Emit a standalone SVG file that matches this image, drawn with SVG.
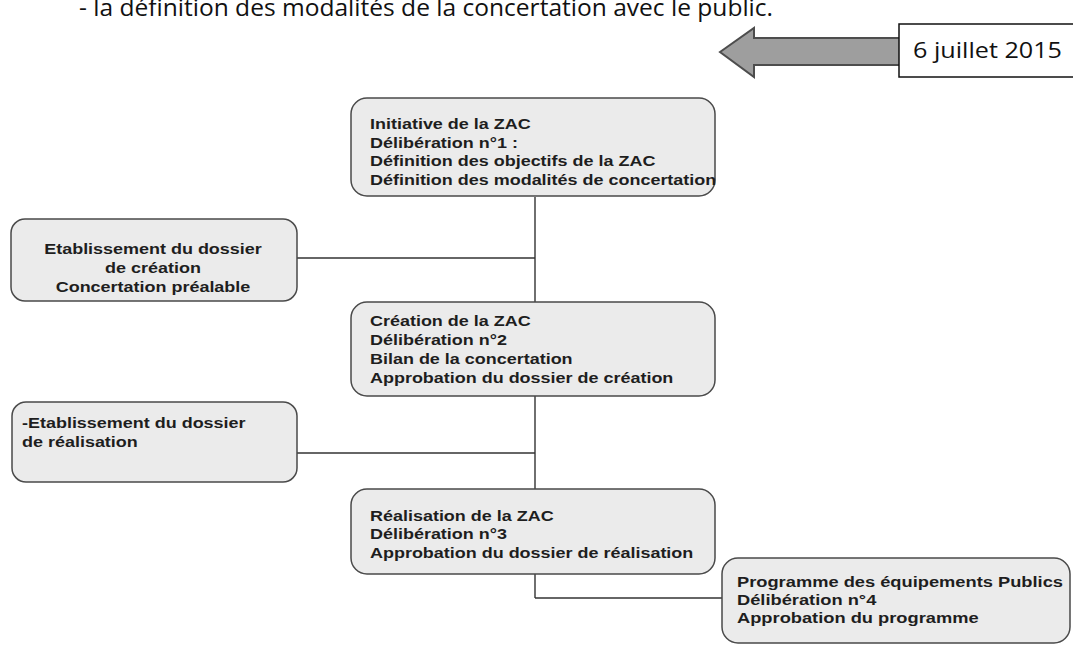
<svg xmlns="http://www.w3.org/2000/svg" width="1073" height="645" viewBox="0 0 1073 645">
<style>
.node{fill:#ebebeb;stroke:#4a4a4a;stroke-width:1.5}
.t{font-family:"Liberation Sans",Arial,sans-serif;font-weight:bold;font-size:15.5px;fill:#1e1e1e}
.conn{stroke:#333;stroke-width:1.4;fill:none}
.cal{font-family:"Open Sans","Noto Sans",sans-serif;fill:#111}
</style>
<rect width="1073" height="645" fill="#fff"/>
<text class="cal" x="79" y="16" font-size="23" textLength="694" lengthAdjust="spacingAndGlyphs">- la définition des modalités de la concertation avec le public.</text>
<g id="arrow">
<path d="M720,52 L754,28 L754,38 L900,38 L900,65 L754,65 L754,77 Z" fill="#9e9e9e" stroke="#4d4d4d" stroke-width="2" stroke-linejoin="miter"/>
</g>
<g id="date">
<rect x="899" y="24" width="180" height="53" fill="#fff" stroke="#111" stroke-width="1.5"/>
<text class="cal" x="913" y="58" font-size="21" textLength="149" lengthAdjust="spacingAndGlyphs">6 juillet 2015</text>
</g>
<g id="connectors">
<line class="conn" x1="535" y1="197" x2="535" y2="302"/>
<line class="conn" x1="297" y1="258" x2="535" y2="258"/>
<line class="conn" x1="535" y1="396" x2="535" y2="489"/>
<line class="conn" x1="297" y1="453" x2="535" y2="453"/>
<line class="conn" x1="535" y1="574" x2="535" y2="598" stroke="#666"/>
<line class="conn" x1="535" y1="598" x2="722" y2="598" stroke="#666"/>
</g>
<g id="n1">
<rect class="node" x="351" y="98" width="364" height="98" rx="16"/>
<g transform="translate(370,0) scale(1.16,1)">
<text class="t" x="0" y="129">Initiative de la ZAC</text>
<text class="t" x="0" y="148">Délibération n°1 :</text>
<text class="t" x="0" y="166">Définition des objectifs de la ZAC</text>
<text class="t" x="0" y="185">Définition des modalités de concertation</text>
</g>
</g>
<g id="nA">
<rect class="node" x="11" y="219" width="286" height="82" rx="14"/>
<g transform="translate(153,0) scale(1.16,1)">
<text class="t" x="0" y="254" text-anchor="middle">Etablissement du dossier</text>
<text class="t" x="0" y="273" text-anchor="middle">de création</text>
<text class="t" x="0" y="292" text-anchor="middle">Concertation préalable</text>
</g>
</g>
<g id="n2">
<rect class="node" x="351" y="302" width="364" height="94" rx="16"/>
<g transform="translate(370,0) scale(1.16,1)">
<text class="t" x="0" y="326">Création de la ZAC</text>
<text class="t" x="0" y="345">Délibération n°2</text>
<text class="t" x="0" y="364">Bilan de la concertation</text>
<text class="t" x="0" y="383">Approbation du dossier de création</text>
</g>
</g>
<g id="nB">
<rect class="node" x="12" y="402" width="285" height="80" rx="14"/>
<g transform="translate(22,0) scale(1.16,1)">
<text class="t" x="0" y="428">-Etablissement du dossier</text>
<text class="t" x="0" y="447">de réalisation</text>
</g>
</g>
<g id="n3">
<rect class="node" x="351" y="489" width="364" height="85" rx="16"/>
<g transform="translate(370,0) scale(1.16,1)">
<text class="t" x="0" y="521">Réalisation de la ZAC</text>
<text class="t" x="0" y="539">Délibération n°3</text>
<text class="t" x="0" y="558">Approbation du dossier de réalisation</text>
</g>
</g>
<g id="n4">
<rect class="node" x="722" y="558" width="348" height="85" rx="16"/>
<g transform="translate(737,0) scale(1.18,1)">
<text class="t" x="0" y="587" font-size="15">Programme des équipements Publics</text>
<text class="t" x="0" y="605" font-size="15">Délibération n°4</text>
<text class="t" x="0" y="623" font-size="15">Approbation du programme</text>
</g>
</g>
</svg>
